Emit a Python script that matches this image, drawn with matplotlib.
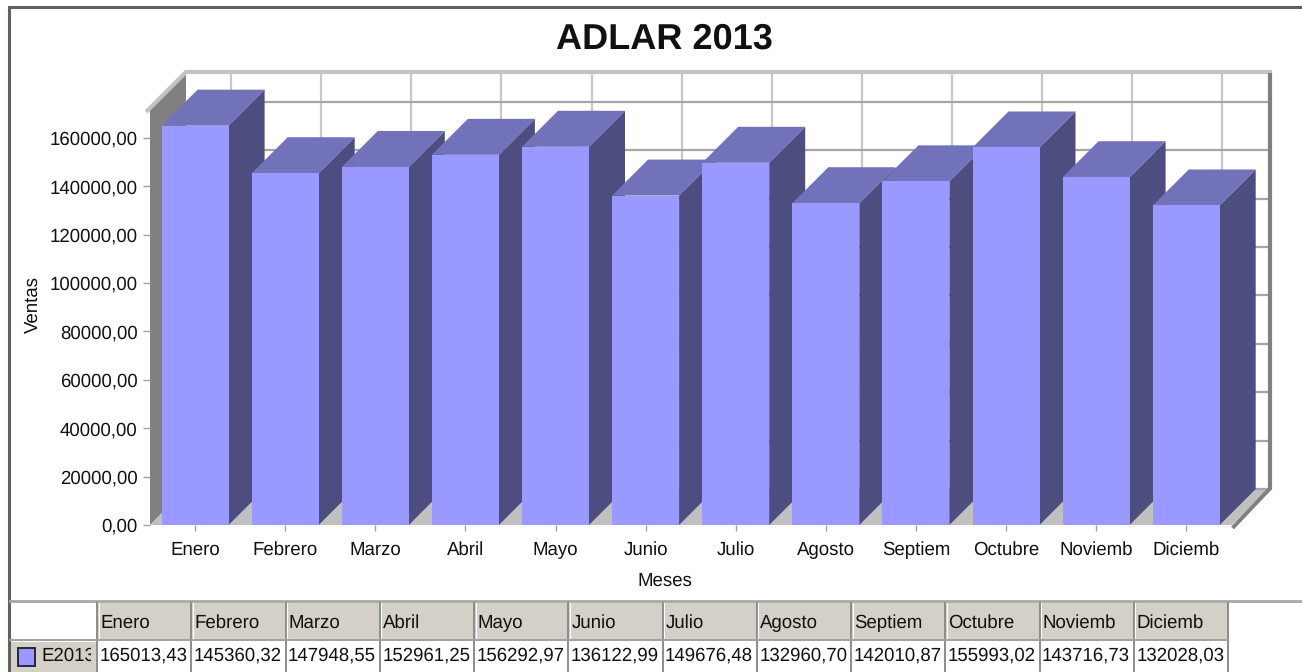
import matplotlib
matplotlib.use('Agg')
import matplotlib.pyplot as plt
from matplotlib.patches import Polygon, Rectangle
from matplotlib.transforms import Bbox

plt.rcParams['font.family'] = ['Liberation Sans', 'DejaVu Sans']
plt.rcParams['text.hinting'] = 'no_hinting'

meses = ['Enero', 'Febrero', 'Marzo', 'Abril', 'Mayo', 'Junio', 'Julio',
         'Agosto', 'Septiem', 'Octubre', 'Noviemb', 'Diciemb']
ventas = [165013.43, 145360.32, 147948.55, 152961.25, 156292.97, 136122.99,
          149676.48, 132960.70, 142010.87, 155993.02, 143716.73, 132028.03]
serie = 'E2013'
titulo = 'ADLAR 2013'
ticks_y = [0, 20000, 40000, 60000, 80000, 100000, 120000, 140000, 160000]

W, H = 1302, 672
fs = 13.4
fig = plt.figure(figsize=(W / 100, H / 100), dpi=100)

# capa en pixeles para marco y tabla
px = fig.add_axes([0, 0, 1, 1], zorder=0)
px.set_xlim(0, W)
px.set_ylim(H, 0)
px.axis('off')

# grafico: plano frontal
izq, der, arriba, abajo = 150, 1232, 109, 525
ax = fig.add_axes([izq / W, (H - abajo) / H, (der - izq) / W, (abajo - arriba) / H], zorder=1)
ax.patch.set_alpha(0)
paso_x = 90.1
px_por_valor = 48.4 / 20000
xl = (izq - 195.1) / paso_x
xr = xl + (der - izq) / paso_x
yt = (abajo - arriba) / px_por_valor
ax.set_xlim(xl, xr)
ax.set_ylim(0, yt)
dx = 36 / paso_x
dy = 36 / px_por_valor
ux = 1 / paso_x  # un pixel en x
uy = 1 / px_por_valor  # un pixel en y

for s in ax.spines.values():
    s.set_visible(False)


def poli(puntos, color, z):
    ax.add_patch(Polygon(puntos, closed=True, facecolor=color, edgecolor='none',
                         clip_on=False, zorder=z))


# paredes y suelo
poli([(xl, 0), (xl + dx, dy), (xl + dx, yt + dy), (xl, yt)], '#808080', 1)
poli([(xl, 0), (xl + dx, dy), (xr + dx, dy), (xr, 0)], '#c0c0c0', 1)

# rejilla del fondo
for v in ticks_y:
    ax.plot([xl + dx, xr + dx], [v + dy, v + dy], color='#a6a6a6', lw=1.6, clip_on=False, zorder=1.5)
for i in range(len(meses)):
    ax.plot([i + dx, i + dx], [dy, yt + dy], color='#c8c8c8', lw=1.6, clip_on=False, zorder=1.4)

# bordes
ax.plot([xl - 4 * ux, xl + dx, xr + dx + 4 * ux], [yt - 3 * uy, yt + dy + uy, yt + dy + uy],
        color='#c4c4c4', lw=3, clip_on=False, solid_capstyle='butt', solid_joinstyle='miter', zorder=2)
ax.plot([xr + dx + 2 * ux] * 2, [yt + dy, dy - uy], color='#808080', lw=3, clip_on=False,
        solid_capstyle='butt', zorder=2)
ax.plot([xr + dx + 2.5 * ux, xr + 0.5 * ux], [dy + uy, -3 * uy], color='#808080', lw=2.8, clip_on=False,
        solid_capstyle='butt', zorder=2)

# barras
ancho = 67 / paso_x
for i, v in enumerate(ventas):
    a, b = i - ancho / 2, i + ancho / 2
    z = 3 + i
    poli([(b, 0), (b + dx, dy), (b + dx, v + dy), (b, v)], '#4d4d7f', z)
    poli([(a, v), (a + dx, v + dy), (b + dx, v + dy), (b, v)], '#7272bb', z)
    ax.bar(i, v, width=ancho, color='#9999ff', zorder=z + 0.5)

ax.set_xticks(range(len(meses)))
ax.set_xticklabels(meses, va='baseline')
ax.set_yticks(ticks_y)
ax.set_yticklabels(['%d,00' % v for v in ticks_y])
ax.tick_params(axis='x', length=4.5, width=1, color='#a0a0a0', pad=17, labelsize=fs, labelcolor='#111111')
ax.tick_params(axis='y', length=5, width=1, color='#a0a0a0', pad=4, labelsize=fs, labelcolor='#111111')

px.text(33, 305, 'Ventas', rotation=90, ha='center', va='center', fontsize=fs, color='#111111')
px.text(664.5, 586, 'Meses', ha='center', va='baseline', fontsize=fs, color='#111111')
px.text(664.5, 49, titulo, ha='center', va='baseline', fontsize=26, fontweight='bold', color='#111111')

# marco exterior
px.plot([9, 9, W], [H, 6.5, 6.5], color='#606060', lw=2.2, solid_joinstyle='miter')
px.plot([10, W], [601, 601], color='#a8a8a8', lw=2)

# tabla
x0 = 97
col = 94.25
y1, y2, y3 = 603, 640, H
for i, (m, v) in enumerate(zip(meses, ventas)):
    xc = x0 + i * col
    px.add_patch(Rectangle((xc, y1), col, y2 - y1, facecolor='#d4d0c8', edgecolor='none'))
    px.text(xc + 3, 628, m, ha='left', va='baseline', fontsize=fs, color='#111111')
    px.text(xc + 2.5, 661, ('%.2f' % v).replace('.', ','), ha='left', va='baseline',
            fontsize=fs, color='#111111')
for i in range(len(meses) + 1):
    xc = x0 + i * col
    px.plot([xc, xc], [y1, y3], color='#8c8c8c', lw=1.4)
    px.plot([xc + 1.5, xc + 1.5], [y1, y2], color='#ffffff', lw=0.8)
px.plot([10, x0 + 12 * col], [y2, y2], color='#a0a0a0', lw=1.4)

px.add_patch(Rectangle((11, 642), 85, 30, facecolor='#d4d0c8', edgecolor='none'))
px.add_patch(Rectangle((18, 648), 17, 18, facecolor='#9999ff', edgecolor='#26263f', lw=1.4))
t = px.text(41.5, 661, serie, ha='left', va='baseline', fontsize=fs, color='#111111')
t.set_clip_box(Bbox([[0, 0], [91, H]]))
t.set_clip_on(True)

fig.savefig('out.png', dpi=100, facecolor='white')
